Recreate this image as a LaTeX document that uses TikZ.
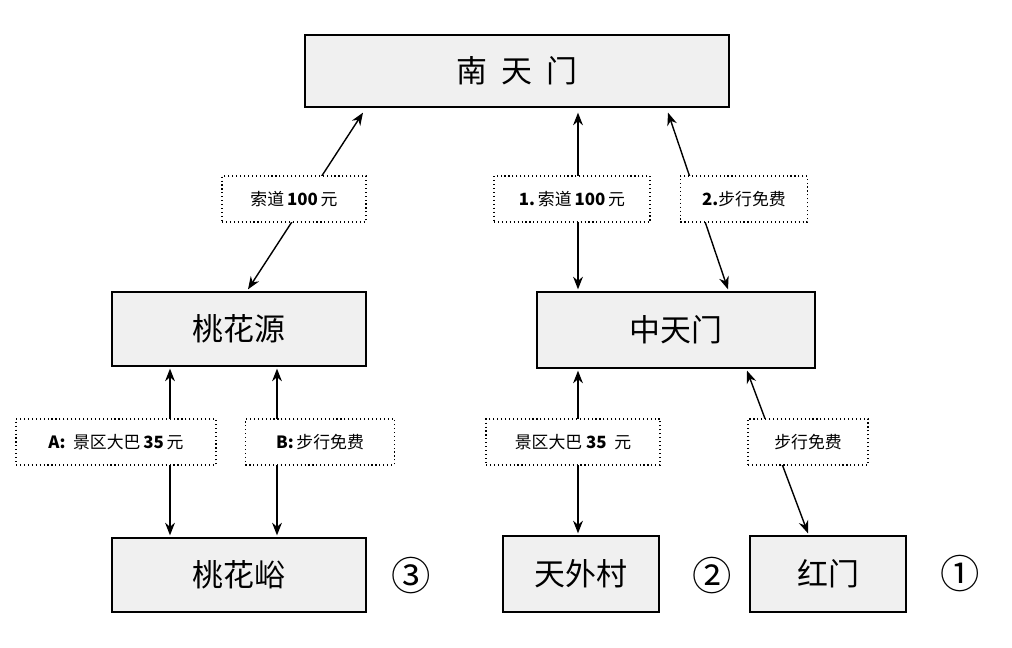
\documentclass[tikz,border=0pt]{standalone}
\usepackage{fontspec}
\setmainfont{Noto Sans CJK SC}
\usetikzlibrary{positioning, arrows.meta, calc}

\begin{document}
\begin{tikzpicture}[x=0.025cm, y=-0.025cm,
    place/.style={draw=black, fill=black!6, line width=0.9pt, inner sep=0pt, font=\fontsize{22}{24}\selectfont},
    route/.style={draw=black, dotted, line width=0.8pt, fill=white, inner sep=0pt, minimum height=1.15cm, font=\fontsize{12}{14}\selectfont},
    circnum/.style={font=\fontsize{28}{30}\selectfont},
    way/.style={{Stealth[length=9pt,width=7pt]}-{Stealth[length=9pt,width=7pt]}, line width=1pt}
]
\useasboundingbox (0,0) rectangle (1012,648);

% places
\node[place, minimum width=10.6cm, minimum height=1.8cm](nantianmen) at (517,71){南\ \ 天\ \ 门};
\node[place, minimum width=6.35cm, minimum height=1.85cm](taohuayuan) at (239,329){桃花源};
\node[place, minimum width=6.95cm, minimum height=1.9cm](zhongtianmen) at (676,330){中天门};
\node[place, minimum width=6.35cm, minimum height=1.85cm](taohuayu) at (239,575){桃花峪};
\node[place, minimum width=3.9cm, minimum height=1.9cm](tianwaicun) at (581,574){天外村};
\node[place, minimum width=3.9cm, minimum height=1.9cm](hongmen) at (828,574){红门};

\node[circnum](n3) at (411,576){③};
\node[circnum](n2) at (712,576){②};
\node[circnum](n1) at (960,574){①};

% connectors
\draw[way] ($(taohuayuan.north)+(9,-2)$) -- ($(nantianmen.south)+(-154,5)$);
\draw[way] ($(zhongtianmen.north)+(-98,-2)$) -- ($(nantianmen.south)+(61,5)$);
\draw[way] ($(zhongtianmen.north)+(52,-2)$) -- ($(nantianmen.south)+(151,5)$);
\draw[way] ($(taohuayuan.south)+(-69,2)$) -- ($(taohuayu.north)+(-69,-2)$);
\draw[way] ($(taohuayuan.south)+(38,2)$) -- ($(taohuayu.north)+(38,-2)$);
\draw[way] ($(zhongtianmen.south)+(-98,2)$) -- ($(tianwaicun.north)+(-3,-2)$);
\draw[way] ($(hongmen.north)+(-20,-2)$) -- ($(zhongtianmen.south)+(71,2)$);

% routes
\node[route, minimum width=3.6cm](r1) at (294,199){索道\,\textbf{100}\,元};
\node[route, minimum width=3.9cm](r2) at (572,199){\textbf{1.}\,索道\,\textbf{100}\,元};
\node[route, minimum width=3.175cm](r3) at (744,199){\textbf{2.}步行免费};
\node[route, minimum width=5cm](r4) at (116,442){\textbf{A:}\ \ 景区大巴\,\textbf{35}\,元};
\node[route, minimum width=3.725cm](r5) at (320,442){\textbf{B:}\,步行免费};
\node[route, minimum width=4.35cm](r6) at (573,442){景区大巴\ \textbf{35}\ \ 元};
\node[route, minimum width=3cm](r7) at (808,442){步行免费};
\end{tikzpicture}
\end{document}
